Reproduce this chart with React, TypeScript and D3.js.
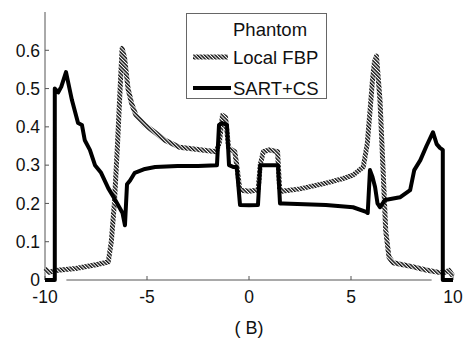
import React from 'react'
import * as d3 from 'd3'

// x positions and values
const phantomX = [-10, -9.05, -9.05, -1.4, -1.4, -1.1, -1.1, -0.5, -0.5, 0.55, 0.55, 1.45, 1.45, 9.05, 9.05, 10]
const phantomY = [0, 0, 0.3, 0.3, 0.4, 0.4, 0.3, 0.3, 0.2, 0.2, 0.3, 0.3, 0.2, 0.2, 0, 0]

const fbpX = [-10, -9.8, -9.5, -8.5, -7.5, -6.9, -6.75, -6.6, -6.45, -6.3, -6.22, -6.1, -5.93, -5.75, -5.54, -5.1, -4.6, -4.12, -3.4, -2.4, -1.6, -1.45, -1.3, -1.15, -1.0, -0.85, -0.7, -0.6, -0.45, 0.0, 0.45, 0.55, 0.7, 1.0, 1.4, 1.5, 1.6, 2.5, 3.77, 4.6, 5.1, 5.6, 5.8, 5.93, 6.05, 6.15, 6.25, 6.42, 6.57, 6.7, 6.86, 7.06, 8.0, 8.68, 9.5, 9.8, 10]
const fbpY = [0.03, 0.02, 0.025, 0.03, 0.04, 0.047, 0.1, 0.2, 0.35, 0.52, 0.605, 0.58, 0.5, 0.46, 0.43, 0.405, 0.385, 0.365, 0.347, 0.34, 0.335, 0.36, 0.43, 0.425, 0.345, 0.34, 0.335, 0.3, 0.235, 0.232, 0.235, 0.3, 0.335, 0.34, 0.335, 0.24, 0.232, 0.238, 0.253, 0.265, 0.274, 0.295, 0.357, 0.44, 0.52, 0.57, 0.585, 0.47, 0.29, 0.13, 0.06, 0.045, 0.035, 0.026, 0.018, 0.025, 0.01]

const sartX = [-10, -9.52, -9.52, -9.35, -9.2, -8.97, -8.68, -8.38, -8.19, -8.05, -7.8, -7.55, -7.25, -6.9, -6.57, -6.2, -6.08, -5.98, -5.83, -5.6, -5.1, -4.6, -3.5, -2.5, -1.57, -1.47, -1.32, -1.08, -0.98, -0.75, -0.6, -0.44, 0.0, 0.44, 0.55, 0.65, 1.0, 1.42, 1.52, 1.67, 3.77, 5.1, 5.74, 5.82, 5.93, 6.05, 6.18, 6.3, 6.42, 6.67, 7.4, 7.9, 8.1, 8.4, 8.7, 9.02, 9.2, 9.36, 9.5, 9.5, 10]
const sartY = [0, 0, 0.5, 0.49, 0.505, 0.543, 0.47, 0.41, 0.405, 0.365, 0.34, 0.3, 0.28, 0.24, 0.21, 0.175, 0.143, 0.25, 0.26, 0.28, 0.29, 0.295, 0.298, 0.298, 0.3, 0.405, 0.41, 0.405, 0.3, 0.295, 0.295, 0.196, 0.195, 0.196, 0.3, 0.3, 0.3, 0.3, 0.2, 0.2, 0.196, 0.19, 0.178, 0.175, 0.287, 0.27, 0.243, 0.2, 0.19, 0.209, 0.216, 0.235, 0.287, 0.313, 0.35, 0.386, 0.355, 0.345, 0.34, 0, 0]

const xTicks = [-10, -5, 0, 5, 10]
const yTicks = [0, 0.1, 0.2, 0.3, 0.4, 0.5, 0.6]
const legendNames = ['Phantom', 'Local FBP', 'SART+CS']

const W = 466
const H = 348
const FONT = 'Liberation Sans, Arial, sans-serif'

export default function App() {
  const x = d3.scaleLinear().domain([-10, 10]).range([45, 453])
  const y = d3.scaleLinear().domain([0, 0.7]).range([280, 12])

  const line = d3
    .line<[number, number]>()
    .x(d => x(d[0]))
    .y(d => y(d[1]))

  const zip = (xs: number[], ys: number[]) => xs.map((v, i) => [v, ys[i]] as [number, number])

  const axisColor = '#555'
  const legendY = [29, 57, 88]

  return (
    <div style={{position: 'absolute', left: 0, top: 0}}>
      <svg width={W} height={H} style={{display: 'block', background: '#fff'}}>
        <defs>
          <pattern id="hatch" patternUnits="userSpaceOnUse" width={2.5} height={2.5} patternTransform="rotate(-45)">
            <rect width={2.5} height={2.5} fill="#fff" />
            <line x1={0.7} y1={0} x2={0.7} y2={2.5} stroke="#111" strokeWidth={1.5} />
          </pattern>
        </defs>

        {/* axes */}
        <line x1={x(-10)} x2={x(-10)} y1={y(0.7)} y2={y(0)} stroke={axisColor} strokeWidth={1} />
        <line x1={x(-10)} x2={x(10)} y1={y(0)} y2={y(0)} stroke={axisColor} strokeWidth={1} />
        {yTicks.map(t => (
          <g key={'y' + t}>
            <line x1={x(-10)} x2={x(-10) + 4} y1={y(t)} y2={y(t)} stroke={axisColor} />
            <text x={40} y={y(t)} dy="0.36em" textAnchor="end" fontFamily={FONT} fontSize={17.5} fill="#111">
              {t === 0 ? '0' : d3.format('.1f')(t)}
            </text>
          </g>
        ))}
        {xTicks.map(t => (
          <g key={'x' + t}>
            <line x1={x(t)} x2={x(t)} y1={y(0)} y2={y(0) - 4} stroke={axisColor} />
            <text x={x(t)} y={303} textAnchor="middle" fontFamily={FONT} fontSize={17.5} fill="#111">
              {t}
            </text>
          </g>
        ))}
        <text x={x(0)} y={334} textAnchor="middle" fontFamily={FONT} fontSize={18} fill="#111">
          ( B)
        </text>

        {/* series */}
        <path d={line(zip(phantomX, phantomY)) || ''} fill="none" stroke="#fff" strokeWidth={4} />
        <path d={line(zip(fbpX, fbpY)) || ''} fill="none" stroke="url(#hatch)" strokeWidth={5} strokeLinejoin="round" />
        <path d={line(zip(sartX, sartY)) || ''} fill="none" stroke="#000" strokeWidth={4} strokeLinejoin="round" />

        {/* legend */}
        <g>
          <rect x={186.5} y={13.5} width={140} height={85} fill="#fff" stroke="#666" strokeWidth={1} />
          {legendNames.map((name, i) => {
            const ly = legendY[i]
            return (
              <g key={name}>
                {i === 0 && <line x1={193} x2={230} y1={ly} y2={ly} stroke="#fff" strokeWidth={4} />}
                {i === 1 && <line x1={193} x2={228} y1={ly} y2={ly} stroke="url(#hatch)" strokeWidth={5} />}
                {i === 2 && <line x1={193} x2={231} y1={ly} y2={ly} stroke="#000" strokeWidth={4} />}
                <text x={233} y={ly} dy="0.36em" fontFamily={FONT} fontSize={18.5} fill="#111">
                  {name}
                </text>
              </g>
            )
          })}
        </g>
      </svg>
    </div>
  )
}
